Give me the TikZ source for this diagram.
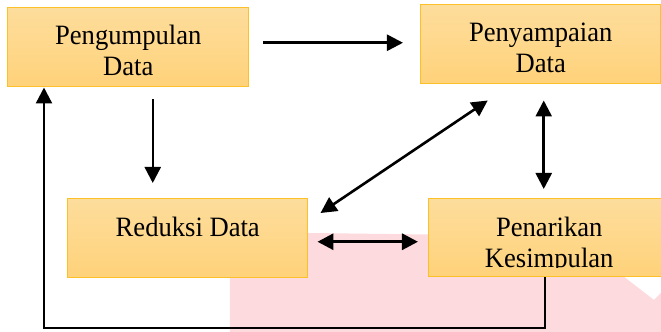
\documentclass[tikz,border=0pt]{standalone}
\usepackage{fontspec}
\setmainfont{Liberation Serif}
\newfontfamily\boxfont[FakeStretch=0.95]{Liberation Serif}
\usepackage{tikz}
\usetikzlibrary{arrows.meta}

\definecolor{boxtop}{RGB}{253,221,156}
\definecolor{boxbot}{RGB}{255,210,122}
\definecolor{boxline}{RGB}{252,192,40}
\definecolor{wmpink}{RGB}{253,218,221}

\begin{document}
\begin{tikzpicture}[x=0.5pt,y=-0.5pt,
	box/.style={rectangle, anchor=north west, inner sep=0pt,
		top color=boxtop, bottom color=boxbot, draw=boxline, line width=0.75pt},
	txt/.style={anchor=north, inner sep=0pt, align=center,
		font=\boxfont\fontsize{14}{15.5}\selectfont},
	arr/.style={line width=1.3pt, -{Triangle[length=8pt,width=8pt]}},
	dbl/.style={line width=1.3pt, {Triangle[length=8pt,width=8pt]}-{Triangle[length=8pt,width=8pt]}},
	fb/.style={line width=1.2pt, -{Triangle[length=8pt,width=8pt]}}]

% frame %{{{2

	\useasboundingbox (0,0) rectangle (661,332);

% watermark %{{{2

	\fill[wmpink] (230,332) -- (230,232) -- (428,234.5) -- (623,276)
		-- (654,300) -- (661,293) -- (661,332) -- cycle;

% boxes %{{{2

	\node[box, minimum width=120.5pt, minimum height=39.5pt] (pd) at (7,7) {};
	\node[box, minimum width=120pt, minimum height=39.5pt] (py) at (420,4) {};
	\node[box, minimum width=120pt, minimum height=39.5pt] (rd) at (67,198) {};
	\node[box, minimum width=120.5pt, minimum height=39pt] (pk) at (428,198) {};

% box texts %{{{2

	\node[txt] (tpd) at ([yshift=-9pt]pd.north) {Pengumpulan\\Data};
	\node[txt] (tpy) at ([yshift=-9.5pt]py.north) {Penyampaian\\Data};
	\node[txt] (trd) at ([yshift=-9.5pt]rd.north) {Reduksi Data};
	\begin{scope}
		\clip (pk.north west) rectangle ([yshift=5pt]pk.south east);
		\node[txt] (tpk) at ([yshift=-9.5pt]pk.north) {Penarikan\\Kesimpulan};
	\end{scope}

% arrows %{{{2

	\draw[arr, shorten <=7pt, shorten >=8.5pt]
		([yshift=2.25pt]pd.east) -- ([yshift=2.25pt]pd.east -| py.west);
	\draw[arr, line width=1.2pt, shorten <=6pt, shorten >=7.5pt]
		([xshift=12.25pt]pd.south) -- ([xshift=12.25pt]pd.south |- rd.north);
	\draw[dbl]
		([xshift=-26.5pt,yshift=-8pt]py.south) -- ([xshift=6pt,yshift=-7.5pt]rd.north east);
	\draw[dbl, shorten <=8pt, shorten >=4.5pt]
		([xshift=1.5pt]py.south) -- ([xshift=1.5pt]py.south |- pk.north);
	\draw[dbl, line width=1.6pt, shorten <=4.5pt, shorten >=5pt]
		([yshift=-1.75pt]rd.east) -- ([yshift=-1.75pt]rd.east -| pk.west);

% feedback %{{{2

	\coordinate (fbc) at (44,328);
	\draw[fb] ([xshift=-2.25pt]pk.south) |- (fbc) -- (fbc |- pd.south);

\end{tikzpicture}
\end{document}
